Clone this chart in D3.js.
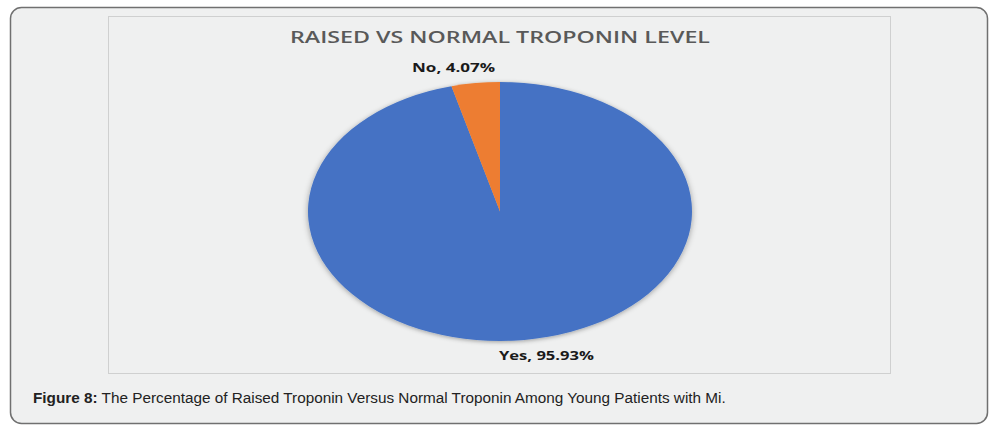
<!DOCTYPE html>
<html>
<head>
<meta charset="utf-8">
<script src="https://cdn.jsdelivr.net/npm/d3@7"></script>
<style>
  html, body { margin: 0; padding: 0; background: #fff; }
  svg { display: block; }
</style>
</head>
<body>
<div id="container"></div>
<script>
// data
let categories = ['Yes', 'No']
let values = [95.93, 4.07]
let colours = ['#4472C4', '#ED7D31']
let title = 'RAISED VS NORMAL TROPONIN LEVEL'
let captionBold = 'Figure 8:'
let captionText = ' The Percentage of Raised Troponin Versus Normal Troponin Among Young Patients with Mi.'

let width = 999,
  height = 433

// pie geometry (the source is a circle stretched sideways)
let cx = 500, cy = 211.5,
  ry = 129.5, rx = 192

let svg = d3.select('#container')
  .append('svg')
  .attr('width', width)
  .attr('height', height)

let defs = svg.append('defs')
defs.append('filter')
  .attr('id', 'shadow')
  .attr('x', '-10%').attr('y', '-10%')
  .attr('width', '120%').attr('height', '120%')
  .append('feDropShadow')
  .attr('dx', 0).attr('dy', 1)
  .attr('stdDeviation', 2)
  .attr('flood-color', '#000')
  .attr('flood-opacity', 0.35)

// outer frame
svg.append('rect')
  .attr('x', 10.5).attr('y', 7.5)
  .attr('width', 977).attr('height', 416)
  .attr('rx', 11)
  .attr('fill', '#eff0f0')
  .attr('stroke', '#707070')
  .attr('stroke-width', 1.5)

// chart area
svg.append('rect')
  .attr('x', 108.5).attr('y', 16.5)
  .attr('width', 782).attr('height', 357)
  .attr('fill', '#eff0f0')
  .attr('stroke', '#cfd0d0')
  .attr('stroke-width', 1)

svg.append('text')
  .attr('x', 500).attr('y', 43)
  .attr('text-anchor', 'middle')
  .attr('font-family', 'Open Sans, sans-serif')
  .attr('font-size', 15.5)
  .attr('font-weight', 600)
  .attr('fill', '#595959')
  .attr('textLength', 420)
  .attr('lengthAdjust', 'spacingAndGlyphs')
  .text(title)

let pie = d3.pie().sort(null).value(d => d)
let arcs = pie(values)

let arc = d3.arc().innerRadius(0).outerRadius(ry)

let pieG = svg.append('g')
  .attr('filter', 'url(#shadow)')
  .attr('transform', `translate(${cx},${cy}) scale(${rx / ry},1)`)

pieG.selectAll('path')
  .data(arcs)
  .join('path')
  .attr('d', arc)
  .attr('fill', (d, i) => colours[i])

// labels sit just outside each slice at its mid angle
let labelWidths = [95, 83]
svg.selectAll('text.label')
  .data(arcs)
  .join('text')
  .attr('class', 'label')
  .attr('x', d => {
    let a = (d.startAngle + d.endAngle) / 2
    let s = Math.sin(a)
    return cx + s * rx + Math.sign(s) * 22
  })
  .attr('y', d => {
    let a = (d.startAngle + d.endAngle) / 2
    return cy - Math.cos(a) * (ry + 16) + 4.5
  })
  .attr('text-anchor', 'middle')
  .attr('font-family', 'Open Sans, sans-serif')
  .attr('font-size', 13)
  .attr('font-weight', 700)
  .attr('fill', '#1a1a1a')
  .attr('textLength', (d, i) => labelWidths[i])
  .attr('lengthAdjust', 'spacingAndGlyphs')
  .text((d, i) => `${categories[i]}, ${values[i].toFixed(2)}%`)

// caption
let cap = svg.append('text')
  .attr('x', 33).attr('y', 403)
  .attr('font-family', 'Liberation Sans, Arial, sans-serif')
  .attr('font-size', 15.3)
  .attr('fill', '#222')
cap.append('tspan').attr('font-weight', 700).text(captionBold)
cap.append('tspan').text(captionText)
</script>
</body>
</html>
